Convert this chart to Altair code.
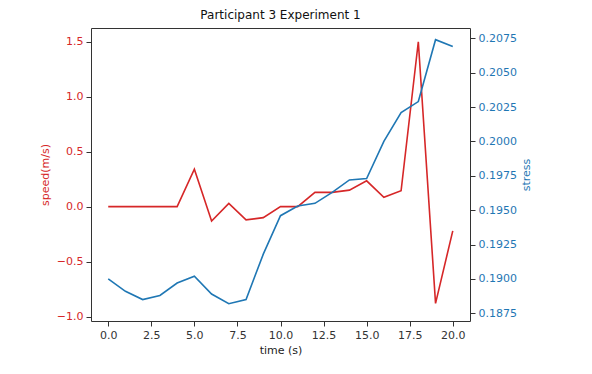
import altair as alt
import pandas as pd

time = list(range(21))
speed = [0, 0, 0, 0, 0, 0.34, -0.13, 0.03, -0.12, -0.10, 0, 0, 0.13, 0.13, 0.15,
         0.235, 0.085, 0.145, 1.5, -0.88, -0.22]
stress = [0.1900, 0.1891, 0.1885, 0.1888, 0.1897, 0.1902, 0.1889, 0.1882, 0.1885,
          0.1918, 0.1946, 0.1953, 0.1955, 0.1963, 0.1972, 0.1973, 0.2000, 0.2021,
          0.2029, 0.2074, 0.2069]

x_ticks = [0, 2.5, 5, 7.5, 10, 12.5, 15, 17.5, 20]
speed_ticks = [-1.0, -0.5, 0.0, 0.5, 1.0, 1.5]
stress_ticks = [0.1875, 0.19, 0.1925, 0.195, 0.1975, 0.2, 0.2025, 0.205, 0.2075]

RED = "#d62728"
BLUE = "#1f77b4"
FONT = "DejaVu Sans"

df = pd.DataFrame({"time": time, "speed": speed, "stress": stress})

x_enc = alt.X("time:Q", title="time (s)",
              scale=alt.Scale(domain=[-1, 21], nice=False, zero=False),
              axis=alt.Axis(values=x_ticks, format=".1f", grid=False, domain=False,
                            tickColor="#333", tickSize=5, labelPadding=3,
                            labelColor="#333", titleColor="#222", titlePadding=4))

speed_line = alt.Chart(df).mark_line(color=RED, strokeWidth=1.6).encode(
    x=x_enc,
    y=alt.Y("speed:Q", title="speed(m/s)",
            scale=alt.Scale(domain=[-1.04, 1.625], nice=False, zero=False),
            axis=alt.Axis(values=speed_ticks, format=".1f", grid=False, domain=False,
                          orient="left", tickColor="#333", tickSize=5, labelPadding=3,
                          labelColor=RED, titleColor=RED, titlePadding=6)),
)

stress_line = alt.Chart(df).mark_line(color=BLUE, strokeWidth=1.6).encode(
    x=x_enc,
    y=alt.Y("stress:Q", title="stress",
            scale=alt.Scale(domain=[0.18694, 0.20825], nice=False, zero=False),
            axis=alt.Axis(values=stress_ticks, format=".4f", grid=False, domain=False,
                          orient="right", tickColor="#333", tickSize=5, labelPadding=3,
                          labelColor=BLUE, titleColor=BLUE, titlePadding=4,
                          titleAngle=270, titleBaseline="top")),
)

chart = alt.layer(speed_line, stress_line).resolve_scale(y="independent").properties(
    width=379,
    height=293,
    title=alt.TitleParams("Participant 3 Experiment 1", fontSize=12, fontWeight="normal",
                          font=FONT, color="#111", anchor="middle", offset=6),
    autosize=alt.AutoSizeParams(type="none"),
    padding={"left": 83, "top": 20, "right": 110, "bottom": 45},
).configure_view(stroke="#333", strokeWidth=1).configure_axis(
    labelFont=FONT, titleFont=FONT, labelFontSize=11, titleFontSize=11,
    titleFontWeight="normal",
)

chart.save("out.html", embed_options={"renderer": "svg", "actions": False})
